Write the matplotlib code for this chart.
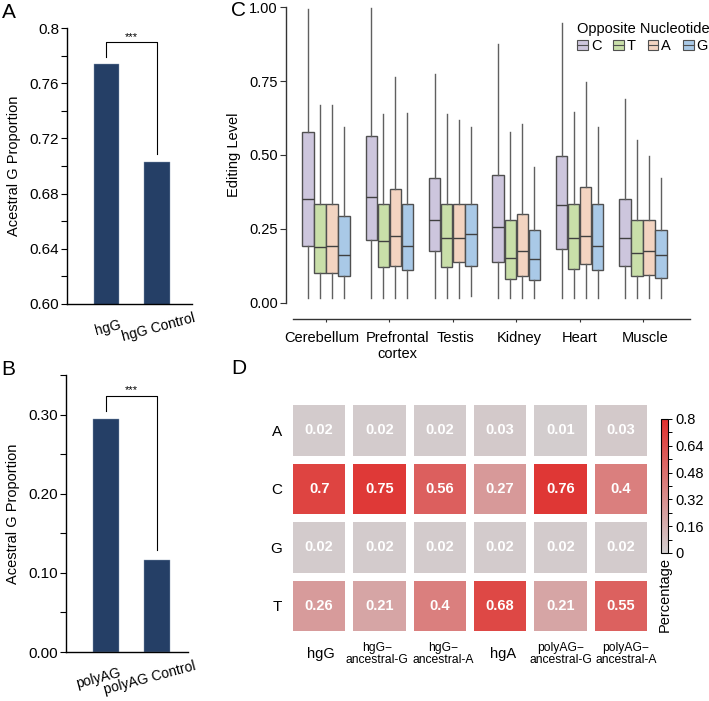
import numpy as np
import matplotlib
matplotlib.use('Agg')
import matplotlib.pyplot as plt
import matplotlib.transforms as mtransforms
from matplotlib.colors import LinearSegmentedColormap
from matplotlib.patches import Patch
from matplotlib.lines import Line2D
from matplotlib.ticker import MultipleLocator

plt.rcParams['font.family'] = ['Liberation Sans', 'DejaVu Sans']
plt.rcParams['axes.unicode_minus'] = False

# ============================================================
# 数据
# ============================================================

# Panel A
A_LABELS = ['hgG', 'hgG Control']
A_VALUES = [0.774, 0.703]
A_TICKS = [0.60, 0.64, 0.68, 0.72, 0.76, 0.80]
A_TICKLABELS = ['0.60', '0.64', '0.68', '0.72', '0.76', '0.8']

# Panel B
B_LABELS = ['polyAG', 'polyAG Control']
B_VALUES = [0.295, 0.116]
B_TICKS = [0.00, 0.10, 0.20, 0.30]
B_TICKLABELS = ['0.00', '0.10', '0.20', '0.30']

# Panel C  (rows: C, T, A, G ; columns: tissues)
TISSUES = ['Cerebellum', 'Prefrontal\ncortex', 'Testis', 'Kidney', 'Heart', 'Muscle']
NUCLEOTIDES = ['C', 'T', 'A', 'G']
WHIS_HI = [[0.993, 0.997, 0.772, 0.874, 0.946, 0.689],
           [0.668, 0.639, 0.637, 0.577, 0.646, 0.551],
           [0.668, 0.763, 0.618, 0.605, 0.745, 0.497],
           [0.595, 0.642, 0.595, 0.460, 0.595, 0.423]]
Q3 = [[0.579, 0.565, 0.423, 0.433, 0.495, 0.352],
      [0.333, 0.333, 0.333, 0.281, 0.333, 0.281],
      [0.333, 0.386, 0.336, 0.302, 0.392, 0.281],
      [0.293, 0.333, 0.333, 0.245, 0.333, 0.245]]
MEDIAN = [[0.352, 0.359, 0.281, 0.258, 0.330, 0.218],
          [0.190, 0.210, 0.218, 0.153, 0.218, 0.169],
          [0.193, 0.225, 0.220, 0.177, 0.225, 0.177],
          [0.161, 0.194, 0.232, 0.150, 0.194, 0.161]]
Q1 = [[0.193, 0.212, 0.176, 0.137, 0.182, 0.125],
      [0.100, 0.120, 0.120, 0.082, 0.115, 0.090],
      [0.100, 0.125, 0.137, 0.091, 0.131, 0.096],
      [0.090, 0.113, 0.124, 0.079, 0.113, 0.085]]
WHIS_LO = [[0.017, 0.017, 0.017, 0.017, 0.017, 0.017],
           [0.017, 0.017, 0.017, 0.017, 0.017, 0.017],
           [0.017, 0.017, 0.017, 0.017, 0.017, 0.017],
           [0.017, 0.017, 0.023, 0.017, 0.017, 0.017]]
C_TICKS = [0.00, 0.25, 0.50, 0.75, 1.00]

# Panel D
D_ROWS = ['A', 'C', 'G', 'T']
D_COLS = ['hgG', 'hgG\u2212\nancestral-G', 'hgG\u2212\nancestral-A', 'hgA',
          'polyAG\u2212\nancestral-G', 'polyAG\u2212\nancestral-A']
D_VALUES = [[0.02, 0.02, 0.02, 0.03, 0.01, 0.03],
            [0.70, 0.75, 0.56, 0.27, 0.76, 0.40],
            [0.02, 0.02, 0.02, 0.02, 0.02, 0.02],
            [0.26, 0.21, 0.40, 0.68, 0.21, 0.55]]
CBAR_TICKS = [0, 0.16, 0.32, 0.48, 0.64, 0.8]
CBAR_TICKLABELS = ['0', '0.16', '0.32', '0.48', '0.64', '0.8']

# ============================================================
# 配色
# ============================================================
BAR_COLOR = '#253F66'
BOX_COLORS = ['#CDC6DD', '#C9DFA9', '#F3D4C1', '#A9C9E7']
BOX_EDGE = '#505050'
HEAT_CMAP = LinearSegmentedColormap.from_list('grey_red', ['#D3CFD0', '#E0302D'])

W, H = 709, 701


def px_rect(x0, y0, x1, y1):
    """像素坐标 -> figure 坐标"""
    return [x0 / W, 1 - y1 / H, (x1 - x0) / W, (y1 - y0) / H]


def shift_label(lab, dx_px):
    fig = lab.figure
    lab.set_transform(lab.get_transform() +
                      mtransforms.ScaledTranslation(dx_px / 100, 0, fig.dpi_scale_trans))


def plot_bar_panel(ax, labels, values, ticks, ticklabels, ylim, minor, xlim,
                   bracket_top, legs, label_pad, label_dx):
    x = np.arange(len(values))
    ax.bar(x, values, width=0.5, color=BAR_COLOR, edgecolor='#8a9bb5', linewidth=0.3)
    ax.set_xlim(*xlim)
    ax.set_ylim(*ylim)
    ax.set_yticks(ticks, ticklabels)
    ax.yaxis.set_minor_locator(MultipleLocator(minor))
    ax.set_xticks(x, labels, rotation=15, ha='center', va='center')
    ax.tick_params(axis='x', length=0, labelsize=10, pad=label_pad)
    ax.tick_params(axis='y', which='both', length=4, width=0.8, labelsize=11, pad=1.5)
    for lab in ax.get_xticklabels():
        shift_label(lab, label_dx)
    for s in ['top', 'right']:
        ax.spines[s].set_visible(False)
    for s in ['left', 'bottom']:
        ax.spines[s].set_linewidth(1.0)
    ax.set_ylabel('Acestral G Proportion', fontsize=10.5, labelpad=6)
    # 显著性括号
    y0 = values[0] + legs[0]
    y1 = values[1] + legs[1]
    ax.plot([0, 0, 1, 1], [y0, bracket_top, bracket_top, y1], color='black', lw=0.8, clip_on=False)
    ax.text(0.5, bracket_top, '***', ha='center', va='bottom', fontsize=8)


def plot_box_panel(ax):
    n = len(TISSUES)
    for j, nuc in enumerate(NUCLEOTIDES):
        stats = [dict(med=MEDIAN[j][i], q1=Q1[j][i], q3=Q3[j][i],
                      whislo=WHIS_LO[j][i], whishi=WHIS_HI[j][i], fliers=[])
                 for i in range(n)]
        pos = np.arange(n) + (j - 1.5) * 0.19
        ax.bxp(stats, positions=pos, widths=0.18, showcaps=False, showfliers=False,
               patch_artist=True, manage_ticks=False,
               boxprops=dict(facecolor=BOX_COLORS[j], edgecolor=BOX_EDGE, linewidth=1.0),
               medianprops=dict(color='#404040', linewidth=1.0),
               whiskerprops=dict(color='#606060', linewidth=1.0))
    ax.set_xlim(-0.52, 5.74)
    ax.set_ylim(0, 1.0)
    ax.set_yticks(C_TICKS, [f'{t:.2f}' for t in C_TICKS])
    ax.set_xticks(np.arange(n), TISSUES)
    for s in ['top', 'right']:
        ax.spines[s].set_visible(False)
    ax.spines['left'].set_position(('outward', 5))
    ax.spines['bottom'].set_position(('outward', 11.5))
    for s in ['left', 'bottom']:
        ax.spines[s].set_color('#333333')
        ax.spines[s].set_linewidth(1.0)
    ax.tick_params(axis='y', length=4, width=0.8, labelsize=10.5, pad=2, color='#333333')
    ax.tick_params(axis='x', length=2.5, width=0.8, labelsize=10.5, pad=6, color='#333333')
    xl = ax.get_xticklabels()
    for lab, dx in zip(xl, [-4, 8, 3, 3, 0, 2]):
        shift_label(lab, dx)
    ax.set_ylabel('Editing Level', fontsize=10.5, labelpad=6)

    handles = [(Patch(facecolor=c, edgecolor=BOX_EDGE, linewidth=0.8),
                Line2D([], [], color=BOX_EDGE, linewidth=0.8)) for c in BOX_COLORS]
    fig = ax.figure
    fig.legend(handles, NUCLEOTIDES, title='Opposite Nucleotide', ncol=4,
               loc='upper left', bbox_to_anchor=(577 / W, 1 - 22 / H),
               frameon=False, fontsize=10.5, title_fontsize=10.5,
               handlelength=0.75, handleheight=0.7, handletextpad=0.2,
               columnspacing=0.8, borderpad=0, borderaxespad=0,
               alignment='left', labelspacing=0.2)


def plot_heat_panel(ax, cax):
    data = np.array(D_VALUES)
    mesh = ax.pcolormesh(data, cmap=HEAT_CMAP, vmin=0, vmax=0.8,
                         edgecolors='white', linewidth=4.5)
    ax.set_xlim(0, data.shape[1])
    ax.set_ylim(data.shape[0], 0)
    for i in range(data.shape[0]):
        for j in range(data.shape[1]):
            ax.text(j + 0.5, i + 0.5, f'{data[i, j]:g}', ha='center', va='center',
                    color='white', fontsize=10.5, fontweight='bold')
    ax.set_yticks(np.arange(len(D_ROWS)) + 0.5, D_ROWS)
    ax.set_xticks(np.arange(len(D_COLS)) + 0.5, D_COLS)
    ax.tick_params(axis='y', length=0, labelsize=11, pad=5)
    ax.tick_params(axis='x', length=0, labelsize=8.7, pad=13.5)
    for lab, dx in zip(ax.get_xticklabels(), [2, -2.5, 3, 2.5, 0, 5]):
        lab.set_va('center')
        if '\n' not in lab.get_text():
            lab.set_fontsize(10.5)
        lab.set_linespacing(1.0)
        shift_label(lab, dx)
    for s in ax.spines.values():
        s.set_visible(False)

    cbar = ax.figure.colorbar(mesh, cax=cax)
    cbar.set_ticks(CBAR_TICKS, labels=CBAR_TICKLABELS)
    cax.yaxis.set_minor_locator(MultipleLocator(0.08))
    cax.tick_params(which='both', length=3, width=0.7, labelsize=10.5, pad=2)
    cbar.outline.set_linewidth(0.8)
    ax.figure.text(664.5 / W, 1 - 594 / H, 'Percentage', rotation=90,
                   ha='center', va='center', fontsize=10.5)


def main():
    fig = plt.figure(figsize=(W / 100, H / 100), dpi=100)

    ax_a = fig.add_axes(px_rect(67, 28, 192, 304))
    plot_bar_panel(ax_a, A_LABELS, A_VALUES, A_TICKS, A_TICKLABELS, (0.60, 0.80), 0.02,
                   (-0.78, 1.69), 0.790, (0.005, 0.006), 17, 1)

    ax_b = fig.add_axes(px_rect(66, 375, 188, 652))
    plot_bar_panel(ax_b, B_LABELS, B_VALUES, B_TICKS, B_TICKLABELS, (0.0, 0.35), 0.05,
                   (-0.77, 1.6), 0.324, (0.010, 0.013), 19, -7)

    ax_c = fig.add_axes(px_rect(293, 7, 690, 303))
    plot_box_panel(ax_c)

    ax_d = fig.add_axes(px_rect(289, 401, 651, 635))
    cax = fig.add_axes(px_rect(661, 419, 668, 553))
    plot_heat_panel(ax_d, cax)

    for lab, (x, y) in zip('ABCD', [(2, 3), (1, 360), (231, 1), (231, 359)]):
        fig.text(x / W, 1 - y / H, lab, fontsize=15, ha='left', va='top')

    fig.savefig('out.png', dpi=100, facecolor='white')


if __name__ == '__main__':
    main()
